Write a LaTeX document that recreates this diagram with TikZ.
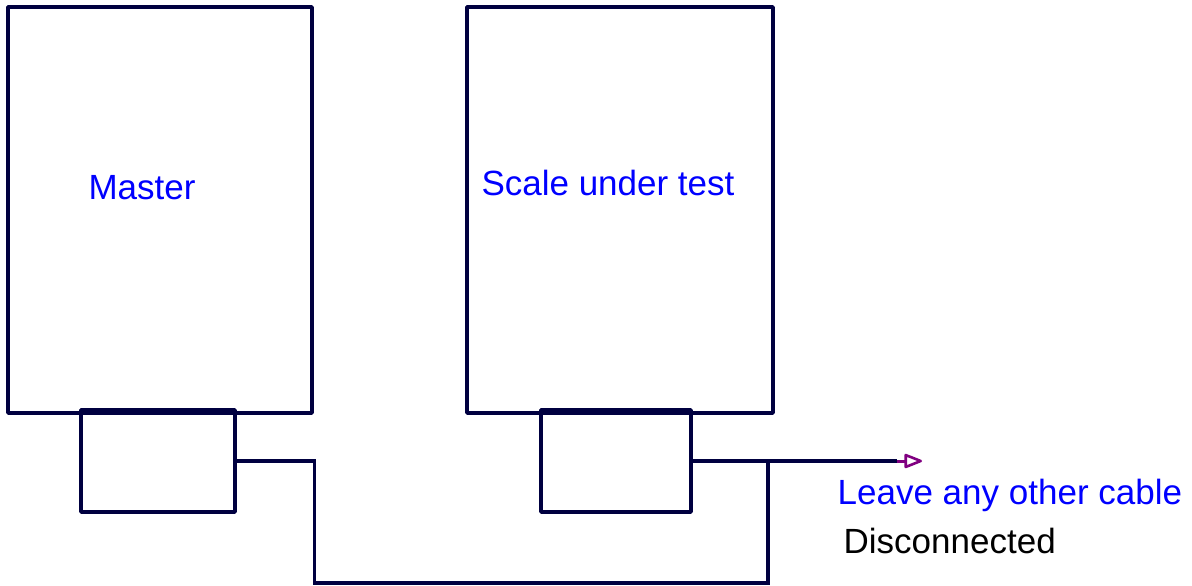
\documentclass[tikz,border=0pt]{standalone}
\usepackage{fontspec}
\setmainfont{Liberation Sans}
\usetikzlibrary{arrows.meta}
\definecolor{wire}{RGB}{0,0,64}
\definecolor{tipcol}{RGB}{128,0,128}

\begin{document}
\begin{tikzpicture}[
    x=1pt, y=-1pt,
    line width=3.4pt,
    box/.style={draw=wire, rectangle, inner sep=0pt, line join=round},
    caption/.style={text=blue, font=\fontsize{35}{42}\selectfont, inner sep=0pt},
    ]
    \useasboundingbox (0,0) rectangle (1192,586);
    % scales and their ports
    \node[box, minimum width=304pt, minimum height=406pt] (master) at (160,210) {};
    \node[box, minimum width=306pt, minimum height=406pt] (scale) at (620,210) {};
    \node[box, minimum width=154pt, minimum height=102pt] (masterport) at (158,461) {};
    \node[box, minimum width=150pt, minimum height=102pt] (scaleport) at (616,461) {};
    \node[caption] (mastertext) at (142,188) {Master};
    \node[caption] (scaletext) at (608,183) {Scale under test};
    % cable
    \coordinate (tap) at (768,461);
    \coordinate (tipstart) at (897,461);
    \coordinate (cableend) at (922,461);
    \draw[wire] (masterport.east) -- ++(78,0) -- ++(0,122) -| (tap);
    \draw[wire] (scaleport.east) -- (tipstart);
    \draw[tipcol, line width=3pt, -{Triangle[open, length=20pt 0, width=15pt 0, line width=2.6pt, round]}] (tipstart) -- (cableend);
    \node[caption, anchor=west] (leavetext) at (836,495) {Leave any other cable};
    \node[caption, text=black, anchor=west] (disctext) at (842,541) {Disconnected};
\end{tikzpicture}
\end{document}
